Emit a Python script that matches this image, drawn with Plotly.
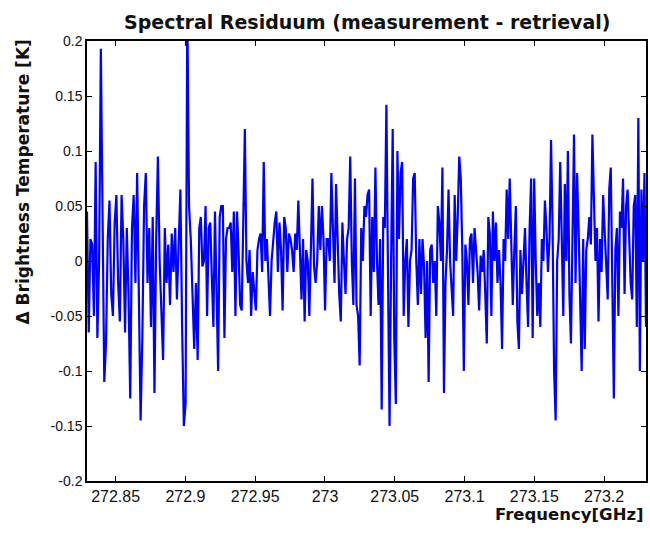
import numpy as np
import plotly.graph_objects as go

# Residual values (K), in five consecutive frequency segments
seg1 = [0.045, -0.065, 0.02, 0.015, -0.05, 0.09, -0.07, 0.0, 0.193, 0.06, -0.11, -0.075, 0.02, 0.055,
        -0.03, -0.05, 0.035, 0.06, -0.02, -0.055, 0.06, 0.02, -0.065, 0.03, -0.03, -0.125, 0.03, 0.06,
        -0.02, 0.08, -0.03, -0.145, -0.07, 0.05, 0.08, -0.02, 0.03, -0.06, 0.04, -0.12, 0.02, 0.095,
        0.0, -0.05, -0.09, 0.03, -0.02, 0.015, -0.04, 0.025, -0.01, 0.03, -0.035, 0.015, 0.065, -0.06,
        -0.15, -0.13, 0.23, 0.05, 0.02, -0.03, -0.08, -0.02]
seg2 = [-0.09, 0.03, 0.04, -0.005, 0.0, 0.05, -0.05, 0.03, 0.035, -0.015, -0.06, 0.045, -0.03, -0.1,
        0.04, 0.05, 0.05, -0.07, 0.02, 0.03, 0.03, 0.035, -0.01, 0.045, -0.05, 0.045, 0.01, -0.04,
        -0.045, 0.04, 0.12, 0.0, -0.02, 0.01, -0.05, -0.01, -0.03, -0.045, 0.01, 0.02, 0.025, -0.01,
        0.09, 0.0, 0.02, -0.01, -0.05, 0.0, 0.02, 0.035, 0.045, -0.01, 0.035, 0.01, -0.045, 0.04, 0.03,
        -0.01, 0.025, 0.02, 0.01, -0.01, 0.025, 0.01, 0.055, 0.0, -0.035, 0.02, -0.055, 0.01, 0.0]
seg3 = [-0.05, 0.01, 0.075, -0.005, -0.02, 0.0, 0.05, 0.01, 0.05, 0.02, -0.045, 0.02, 0.02, 0.0, 0.08,
        0.03, -0.02, 0.07, 0.02, -0.03, -0.055, 0.035, 0.0, -0.03, 0.02, 0.03, 0.095, 0.0, -0.04,
        0.075, -0.04, -0.05, -0.095, 0.03, 0.0, 0.05, 0.04, 0.06, 0.065, -0.05, 0.04, -0.01, 0.085,
        0.0, -0.04, 0.02, -0.135, 0.04, 0.03, 0.142, -0.01, -0.15, 0.0, 0.12, -0.07, -0.13, 0.1, 0.02,
        0.08, 0.09, -0.05, 0.0, 0.02, -0.06, 0.0, 0.01, 0.075, 0.08, 0.0, -0.04, 0.02]
seg4 = [-0.03, 0.02, -0.005, -0.07, 0.0, -0.11, 0.01, 0.015, -0.02, 0.0, -0.05, 0.05, 0.035, 0.0,
        0.085, -0.12, -0.02, 0.01, 0.065, 0.0, -0.03, -0.05, 0.06, 0.0, 0.04, 0.095, 0.075, 0.01,
        -0.1, 0.015, 0.0, -0.04, 0.02, 0.025, -0.02, 0.03, 0.01, -0.01, -0.045, 0.005, -0.01, 0.01,
        -0.03, -0.075, 0.04, 0.025, -0.05, 0.045, 0.0, 0.035, -0.02, 0.01, -0.02, -0.08, 0.02, 0.0,
        0.065, 0.02, 0.075, 0.0, -0.04, 0.01, 0.05, -0.055, -0.08, 0.01, -0.03, 0.0, 0.03, -0.02,
        -0.06, 0.03, 0.075]
seg5 = [-0.07, 0.075, 0.0, -0.05, -0.02, -0.06, 0.02, 0.0, 0.055, 0.03, -0.01, 0.02, 0.11, 0.03, -0.1,
        -0.145, 0.0, 0.02, 0.09, 0.03, -0.05, 0.07, 0.0, 0.1, -0.03, -0.075, 0.02, 0.115, -0.02, 0.08,
        0.03, -0.04, -0.1, 0.02, -0.08, 0.01, 0.02, 0.04, 0.015, 0.115, 0.06, 0.0, 0.03, -0.055, 0.02,
        -0.01, 0.06, 0.025, 0.0, -0.035, 0.065, 0.085, -0.02, -0.125, 0.01, 0.03, -0.05, 0.045, 0.03,
        0.075, -0.03, 0.05, 0.065, 0.01, -0.02, -0.035, 0.05, 0.06, -0.06, 0.13, -0.1, 0.065, 0.0,
        0.08, -0.06]
segments = [seg1, seg2, seg3, seg4, seg5]
# frequency boundaries of the segments (GHz)
seg_edges = [272.8295, 272.9088, 272.9888, 273.0688, 273.1488, 273.2300]

x_ticks = [272.85, 272.9, 272.95, 273.0, 273.05, 273.1, 273.15, 273.2]
x_tick_text = ["272.85", "272.9", "272.95", "273", "273.05", "273.1", "273.15", "273.2"]
y_ticks = [-0.2, -0.15, -0.1, -0.05, 0, 0.05, 0.1, 0.15, 0.2]
y_tick_text = ["-0.2", "-0.15", "-0.1", "-0.05", "0", "0.05", "0.1", "0.15", "0.2"]

freq = []
resid = []
for i, seg in enumerate(segments):
    last = i == len(segments) - 1
    f = np.linspace(seg_edges[i], seg_edges[i + 1], len(seg), endpoint=last)
    freq.extend(f.tolist())
    resid.extend(seg)

fig = go.Figure()
fig.add_trace(go.Scatter(x=freq, y=resid, mode="lines",
                         line=dict(color="#0000ff", width=2.2), showlegend=False))

axis_common = dict(showline=True, linecolor="black", linewidth=1.5, mirror="ticks",
                   ticks="inside", ticklen=5, tickwidth=1.2, tickcolor="black",
                   showgrid=False, zeroline=False)
fig.update_layout(
    width=650, height=535,
    margin=dict(l=87, r=2, t=41, b=54),
    paper_bgcolor="white", plot_bgcolor="white",
    xaxis=dict(range=[272.8295, 273.23], tickvals=x_ticks, ticktext=x_tick_text,
               tickfont=dict(family="Liberation Sans, Arial", size=16, color="#111"), **axis_common),
    yaxis=dict(range=[-0.2, 0.2], tickvals=y_ticks, ticktext=y_tick_text,
               tickfont=dict(family="Liberation Sans, Arial", size=14, color="#111"), **axis_common),
    annotations=[
        dict(text="<b>Spectral Residuum (measurement - retrieval)</b>", xref="paper", yref="paper",
             x=0.5, y=1.0, yshift=19, xanchor="center", yanchor="middle", showarrow=False,
             font=dict(family="DejaVu Sans", size=19, color="#111")),
        dict(text="<b>Δ Brightness Temperature [K]</b>", xref="paper", yref="paper",
             x=-0.115, y=0.68, xanchor="center", yanchor="middle", textangle=-90, showarrow=False,
             font=dict(family="DejaVu Sans", size=17, color="#111")),
        dict(text="<b>Frequency[GHz]</b>", xref="paper", yref="paper",
             x=1.0, y=-0.075, xanchor="right", yanchor="middle", showarrow=False,
             font=dict(family="DejaVu Sans", size=16.5, color="#111")),
    ],
)
fig.write_html("out.html")
